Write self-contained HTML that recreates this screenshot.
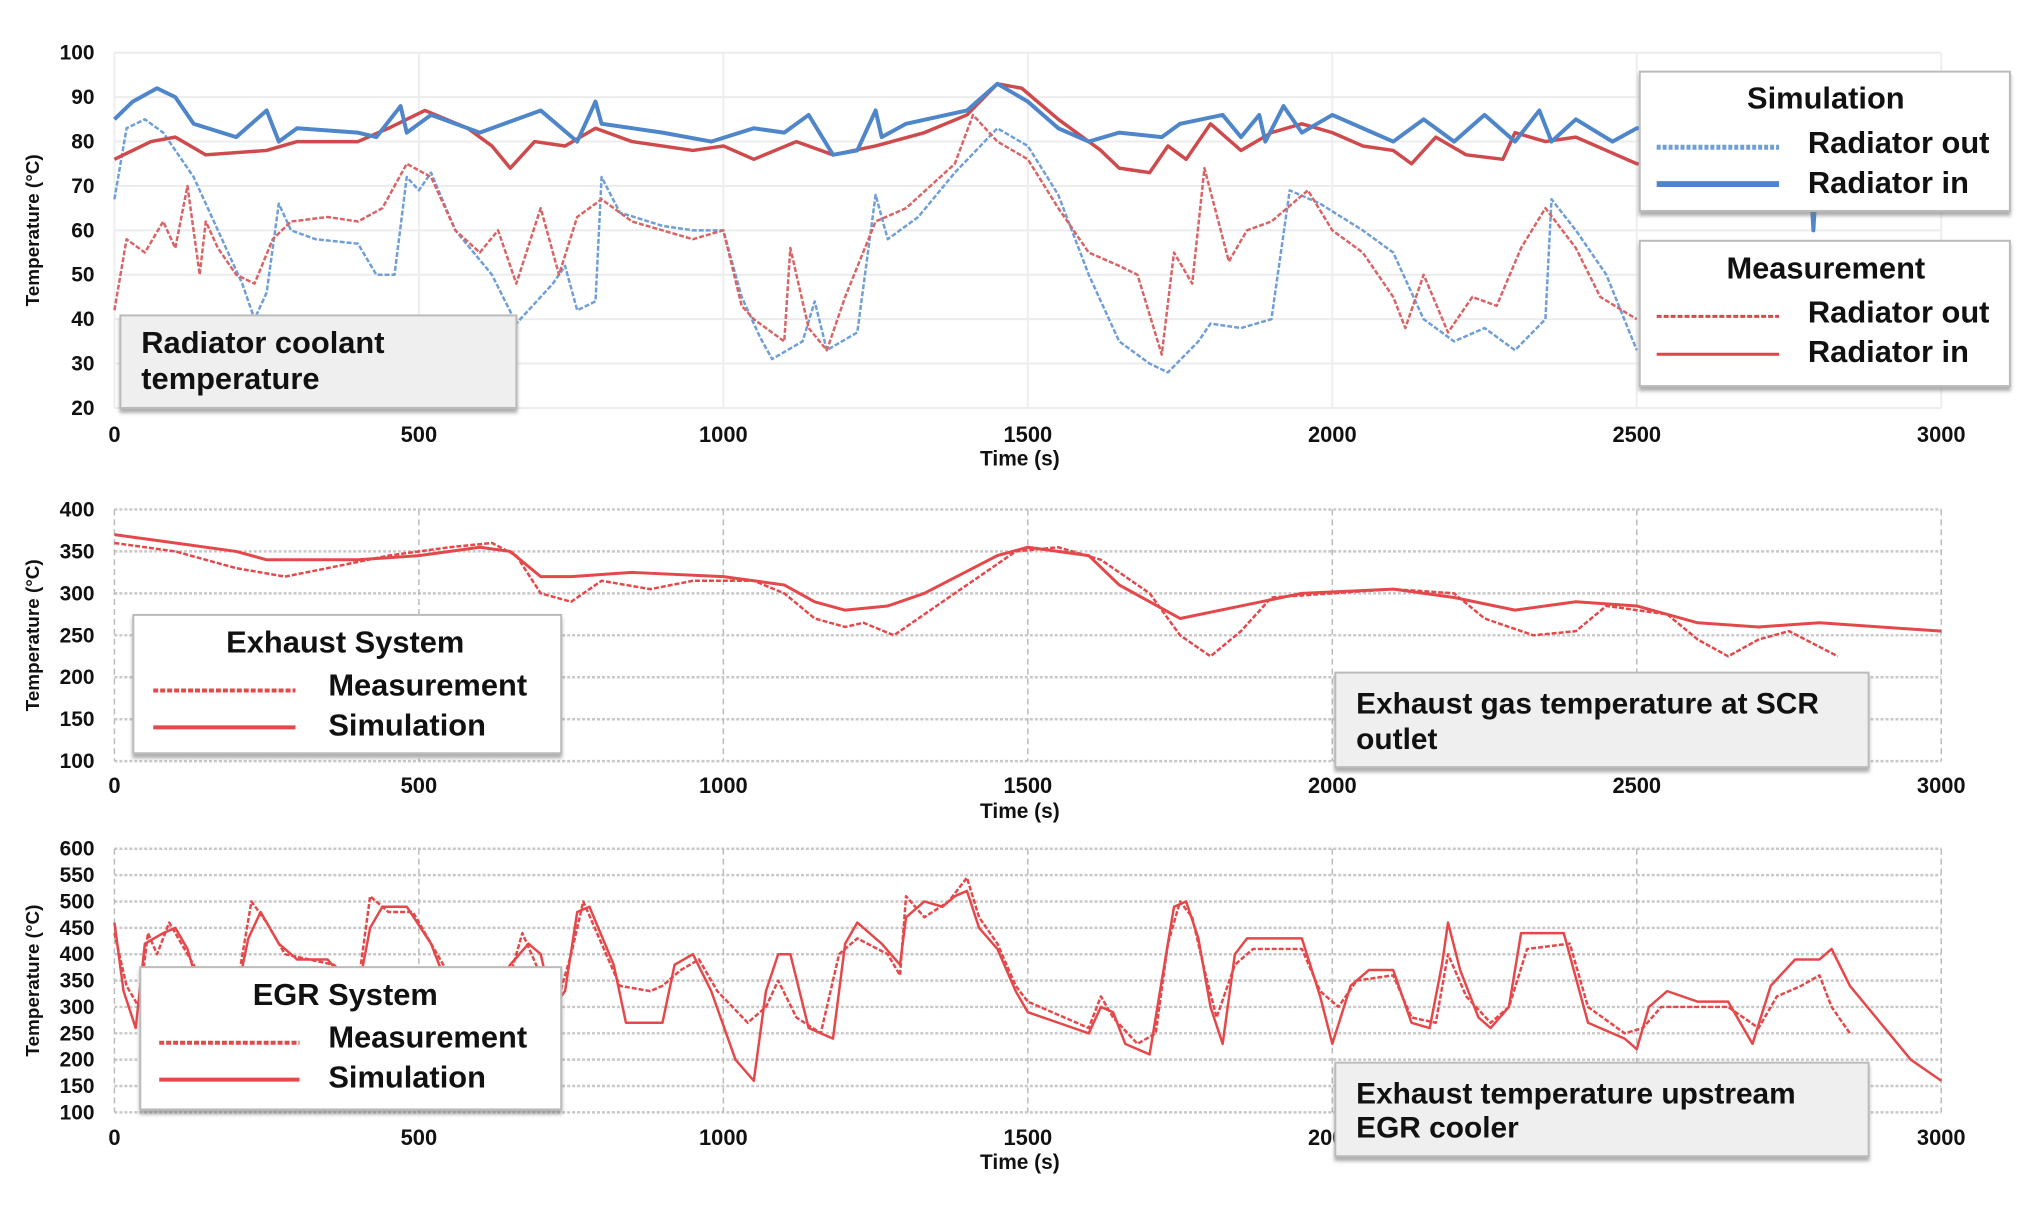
<!DOCTYPE html>
<html><head><meta charset="utf-8"><style>
html,body{margin:0;padding:0;background:#fff;}
svg{display:block;font-family:"Liberation Sans",Arial,sans-serif;font-weight:bold;}
</style></head><body>
<svg width="2033" height="1212" viewBox="0 0 2033 1212" xmlns="http://www.w3.org/2000/svg"><g id="c" transform="scale(0.995)"></g></svg>
<script>
// ---- data ----
const p1Ticks=[20,30,40,50,60,70,80,90,100];
const xTicks=[0,500,1000,1500,2000,2500,3000];
const p2Ticks=[100,150,200,250,300,350,400];
const p3Ticks=[100,150,200,250,300,350,400,450,500,550,600];
const simRadIn=[[0,85],[30,89],[70,92],[100,90],[130,84],[200,81],[250,87],[270,80],[300,83],[400,82],[430,81],[470,88],[480,82],[520,86],[600,82],[700,87],[760,80],[790,89],[800,84],[900,82],[980,80],[1050,83],[1100,82],[1140,86],[1180,77],[1220,78],[1250,87],[1260,81],[1300,84],[1400,87],[1450,93],[1500,89],[1550,83],[1600,80],[1650,82],[1720,81],[1750,84],[1820,86],[1850,81],[1880,86],[1890,80],[1920,88],[1950,82],[2000,86],[2050,83],[2100,80],[2150,85],[2200,80],[2250,86],[2300,80],[2340,87],[2360,80],[2400,85],[2460,80],[2500,83],[2600,83],[2780,84],[2790,60],[2800,84],[3000,84]];
const simRadOut=[[0,67],[20,83],[50,85],[80,82],[130,72],[170,60],[210,48],[230,40],[250,46],[270,66],[290,60],[330,58],[400,57],[430,50],[460,50],[480,72],[500,69],[520,73],[560,60],[620,50],[660,39],[720,48],[740,52],[760,42],[790,44],[800,72],[830,64],[900,61],[950,60],[1000,60],[1030,45],[1060,36],[1080,31],[1130,35],[1150,44],[1170,33],[1220,37],[1250,68],[1270,58],[1320,63],[1380,73],[1450,83],[1500,79],[1550,68],[1600,50],[1650,35],[1700,30],[1730,28],[1780,35],[1800,39],[1850,38],[1900,40],[1930,69],[1980,66],[2050,60],[2100,55],[2150,40],[2200,35],[2250,38],[2300,33],[2350,40],[2360,67],[2400,60],[2450,50],[2500,33]];
const measRadIn=[[0,76],[30,78],[60,80],[100,81],[150,77],[250,78],[300,80],[400,80],[450,83],[510,87],[580,83],[620,79],[650,74],[690,80],[740,79],[790,83],[850,80],[950,78],[1000,79],[1050,76],[1120,80],[1180,77],[1250,79],[1330,82],[1400,86],[1450,93],[1490,92],[1550,85],[1620,78],[1650,74],[1700,73],[1730,79],[1760,76],[1800,84],[1850,78],[1900,82],[1950,84],[2000,82],[2050,79],[2100,78],[2130,75],[2170,81],[2220,77],[2280,76],[2300,82],[2350,80],[2400,81],[2450,78],[2500,75],[2700,75]];
const measRadOut=[[0,42],[20,58],[50,55],[80,62],[100,56],[120,70],[140,50],[150,62],[170,56],[200,50],[230,48],[260,58],[290,62],[350,63],[400,62],[440,65],[480,75],[520,72],[560,60],[600,55],[630,60],[660,48],[700,65],[730,50],[760,63],[800,67],[850,62],[900,60],[950,58],[1000,60],[1030,43],[1050,40],[1100,35],[1110,56],[1140,38],[1170,33],[1200,45],[1250,62],[1300,65],[1380,75],[1410,86],[1450,80],[1500,76],[1550,65],[1600,55],[1650,52],[1680,50],[1720,32],[1740,55],[1770,48],[1790,74],[1830,53],[1860,60],[1900,62],[1960,69],[2000,60],[2050,55],[2100,45],[2120,38],[2150,50],[2190,37],[2230,45],[2270,43],[2310,56],[2350,65],[2400,56],[2440,45],[2500,40]];
const exhMeas=[[0,360],[100,350],[200,330],[280,320],[350,330],[450,345],[550,355],[620,360],[660,345],[700,300],[750,290],[800,315],[880,305],[950,315],[1050,315],[1100,300],[1150,270],[1200,260],[1230,265],[1280,250],[1380,300],[1480,350],[1550,355],[1620,340],[1700,300],[1750,250],[1800,225],[1850,255],[1900,295],[2000,300],[2100,305],[2200,300],[2250,270],[2330,250],[2400,255],[2450,285],[2550,275],[2600,245],[2650,225],[2700,245],[2750,255],[2830,225]];
const exhSim=[[0,370],[100,360],[200,350],[250,340],[400,340],[500,345],[600,355],[650,350],[700,320],[750,320],[850,325],[1000,320],[1100,310],[1150,290],[1200,280],[1270,285],[1330,300],[1450,345],[1500,355],[1600,345],[1650,310],[1750,270],[1850,285],[1950,300],[2100,305],[2200,295],[2300,280],[2400,290],[2500,285],[2600,265],[2700,260],[2800,265],[3000,255]];
const egrSim=[[0,460],[15,330],[35,260],[50,420],[80,440],[100,450],[120,410],[140,330],[200,320],[220,430],[240,480],[270,420],[300,390],[350,390],[380,350],[400,330],[420,450],[440,490],[480,490],[520,420],[550,330],[600,300],[650,380],[680,420],[700,400],[720,300],[740,330],[760,480],[780,490],[820,380],[840,270],[900,270],[920,380],[950,400],[980,330],[1020,200],[1050,160],[1070,330],[1090,400],[1110,400],[1140,260],[1180,240],[1200,420],[1220,460],[1260,420],[1290,380],[1300,470],[1330,500],[1360,490],[1380,510],[1400,520],[1420,450],[1450,410],[1480,330],[1500,290],[1550,270],[1600,250],[1620,300],[1640,290],[1660,230],[1700,210],[1720,350],[1740,490],[1760,500],[1780,430],[1800,300],[1820,230],[1840,400],[1860,430],[1950,430],[1980,320],[2000,230],[2030,340],[2060,370],[2100,370],[2130,270],[2160,260],[2180,380],[2190,460],[2210,370],[2240,280],[2260,260],[2290,300],[2310,440],[2380,440],[2420,270],[2480,240],[2500,220],[2520,300],[2550,330],[2600,310],[2650,310],[2690,230],[2720,340],[2760,390],[2800,390],[2820,410],[2850,340],[2900,270],[2950,200],[3000,160]];
const egrMeas=[[0,440],[20,340],[40,300],[55,440],[70,400],[90,460],[110,420],[130,380],[150,340],[200,330],[225,500],[250,460],[280,400],[360,380],[400,340],[420,510],[450,480],[490,480],[530,400],[560,340],[650,360],[670,440],[700,360],[730,320],[750,400],[770,500],[800,420],[830,340],[880,330],[900,340],[930,370],[960,390],[990,330],[1040,270],[1070,300],[1090,350],[1120,280],[1160,250],[1190,400],[1220,430],[1270,400],[1290,360],[1300,510],[1330,470],[1370,500],[1400,545],[1420,470],[1450,420],[1480,340],[1500,310],[1560,280],[1600,260],[1620,320],[1640,280],[1680,230],[1710,250],[1730,420],[1750,500],[1770,470],[1790,370],[1810,280],[1840,380],[1870,410],[1950,410],[1980,330],[2010,300],[2040,350],[2100,360],[2130,280],[2170,270],[2190,400],[2220,320],[2260,270],[2290,300],[2320,410],[2390,420],[2420,300],[2480,250],[2510,260],[2540,300],[2650,300],[2700,260],[2730,320],[2770,340],[2800,360],[2820,300],[2850,250]];

// ---- drawing ----
const svg=document.getElementById('c');
const NS='http://www.w3.org/2000/svg';
function mk(tag,attrs,parent,text){const e=document.createElementNS(NS,tag);for(const k in attrs)e.setAttribute(k,attrs[k]);if(text!==undefined)e.textContent=text;(parent||svg).appendChild(e);return e;}
const X0=115,X1=1951;
function sx(t){return X0+(t/3000)*(X1-X0);}
function panel(name,top,bot,vmin,vmax,yTicks,gridStyle,xLabelY,titleY){
  const g=mk('g',{},svg);
  
  
  const sy=v=>bot-(v-vmin)/(vmax-vmin)*(bot-top);
  yTicks.forEach(v=>{
    const l=mk('line',{x1:X0,x2:X1,y1:sy(v),y2:sy(v),stroke:gridStyle?'#c8c8c8':'#ececec','stroke-width':gridStyle?2.5:2,'stroke-dasharray':gridStyle?'3 2':'none'},g);
    
    
    const t=mk('text',{x:95,y:sy(v)+7,'text-anchor':'end','font-size':21,fill:'#111'},g,String(v));
    
    
  });
  xTicks.forEach(v=>{
    const l=mk('line',{x1:sx(v),x2:sx(v),y1:top,y2:bot,stroke:gridStyle?'#bbb':'#eee','stroke-width':gridStyle?1.5:2,'stroke-dasharray':gridStyle?'6 4':'none'},g);
    
    
    const t=mk('text',{x:sx(v),y:xLabelY,'text-anchor':'middle','font-size':22,fill:'#111'},g,String(v));
    
    
  });
  const xt=mk('text',{x:1025,y:titleY,'text-anchor':'middle','font-size':21,fill:'#111'},g,'Time (s)');
  
  
  const cy=(top+bot)/2;
  const yt=mk('text',{x:0,y:0,transform:`translate(39,${cy}) rotate(-90)`,'text-anchor':'middle','font-size':19,fill:'#111'},g,'Temperature (°C)');
  
  
  return {g,sy};
}
function series(p,data,color,w,dash,name){
  const d=data.map((pt,i)=>(i?'L':'M')+sx(pt[0]).toFixed(1)+','+p.sy(pt[1]).toFixed(1)).join('');
  const e=mk('path',{d:d,fill:'none',stroke:color,'stroke-width':w,'stroke-dasharray':dash||'none','stroke-linejoin':'round'},p.g);
  
  
}
function box(x,y,w,h,name,gray){
  const r=mk('rect',{x:x,y:y,width:w,height:h,fill:gray?'#efefef':'#fff',stroke:'#bbb','stroke-width':2,filter:'url(#sh)'});
  
  
}
function txt(x,y,s,size,name,anchor){
  const t=mk('text',{x:x,y:y,'font-size':size,fill:'#111','text-anchor':anchor||'start'},svg,s);
  
  
}
function legLine(x1,x2,y,color,w,dash,name){
  const l=mk('line',{x1:x1,x2:x2,y1:y,y2:y,stroke:color,'stroke-width':w,'stroke-dasharray':dash||'none'});
  
  
}
const defs=mk('defs',{});
const f=mk('filter',{id:'sh',x:'-5%',y:'-5%',width:'110%',height:'120%'},defs);
mk('feDropShadow',{dx:0,dy:4,stdDeviation:2,'flood-color':'#777','flood-opacity':0.6},f);

const BLUE='#4f86c9',RED1='#cf4a4c',RED='#e5484a';
const p1=panel('radiator-coolant-chart',53,410,20,100,p1Ticks,false,444,468);
series(p1,simRadOut,'#6f9fd6',2.5,'5 2','sim-radiator-out-line');
series(p1,measRadOut,'#d86466',2.5,'5 2','meas-radiator-out-line');
series(p1,measRadIn,RED1,3.5,null,'meas-radiator-in-line');
series(p1,simRadIn,BLUE,4,null,'sim-radiator-in-line');
const p2=panel('exhaust-scr-chart',512,765,100,400,p2Ticks,true,797,822);
series(p2,exhMeas,RED,2.5,'5 2','exhaust-measurement-line');
series(p2,exhSim,RED,3,null,'exhaust-simulation-line');
const p3=panel('egr-upstream-chart',853,1118,100,600,p3Ticks,true,1151,1175);
series(p3,egrMeas,RED,2.5,'5 2','egr-measurement-line');
series(p3,egrSim,RED,2.5,null,'egr-simulation-line');

box(1648,72,372,140,'legend-simulation');
txt(1835,109,'Simulation',31,'legend-simulation-title','middle');
legLine(1665,1788,148,'#6f9fd6',5,'4 2','legend-sim-out-swatch');
txt(1817,154,'Radiator out',31,'legend-sim-out-label');
legLine(1665,1788,185,BLUE,6,null,'legend-sim-in-swatch');
txt(1817,194,'Radiator in',31,'legend-sim-in-label');
box(1648,242,372,146,'legend-measurement');
txt(1835,280,'Measurement',31,'legend-measurement-title','middle');
legLine(1665,1788,318,'#d9474a',3,'5 2','legend-meas-out-swatch');
txt(1817,324,'Radiator out',31,'legend-meas-out-label');
legLine(1665,1788,356,'#d9474a',3,null,'legend-meas-in-swatch');
txt(1817,364,'Radiator in',31,'legend-meas-in-label');
box(121,317,398,93,'annotation-radiator',true);
txt(142,355,'Radiator coolant',31,'annotation-radiator-line1');
txt(142,391,'temperature',31,'annotation-radiator-line2');

box(134,618,430,139,'legend-exhaust');
txt(347,656,'Exhaust System',31,'legend-exhaust-title','middle');
legLine(154,297,694,RED,4,'5 2','legend-exhaust-meas-swatch');
txt(330,699,'Measurement',31,'legend-exhaust-meas-label');
legLine(154,297,731,RED,4,null,'legend-exhaust-sim-swatch');
txt(330,739,'Simulation',31,'legend-exhaust-sim-label');
box(1342,676,536,95,'annotation-scr',true);
txt(1363,717,'Exhaust gas temperature at SCR',30,'annotation-scr-line1');
txt(1363,753,'outlet',30,'annotation-scr-line2');

box(141,972,423,143,'legend-egr');
txt(347,1010,'EGR System',31,'legend-egr-title','middle');
legLine(160,301,1048,RED,4,'5 2','legend-egr-meas-swatch');
txt(330,1053,'Measurement',31,'legend-egr-meas-label');
legLine(160,301,1085,RED,4,null,'legend-egr-sim-swatch');
txt(330,1093,'Simulation',31,'legend-egr-sim-label');
box(1342,1068,536,94,'annotation-egr',true);
txt(1363,1109,'Exhaust temperature upstream',30,'annotation-egr-line1');
txt(1363,1143,'EGR cooler',30,'annotation-egr-line2');
</script>
</body></html>
